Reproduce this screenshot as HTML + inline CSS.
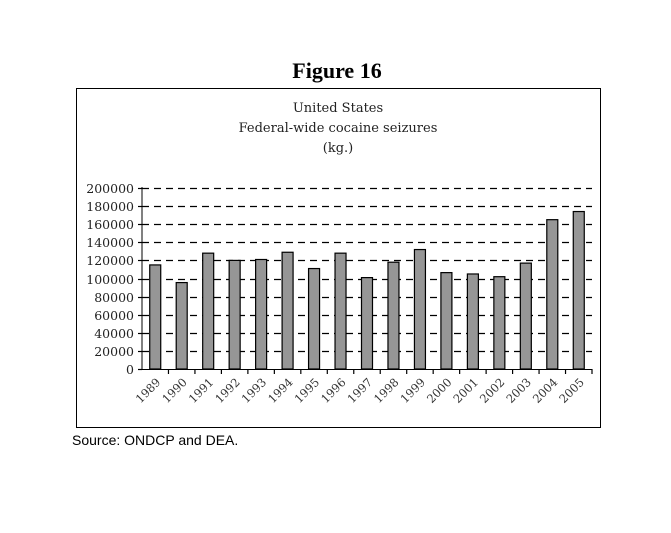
<!DOCTYPE html>
<html><head><style>
body{margin:0;width:671px;height:533px;background:#fff;position:relative;overflow:hidden}
</style></head><body>
<svg width="671" height="533" style="position:absolute;left:0;top:0">
<text x="337" y="78" text-anchor="middle" font-family="Liberation Serif" font-weight="bold" font-size="22">Figure 16</text>
<rect x="76.5" y="88.5" width="524" height="339" fill="none" stroke="#000" stroke-width="1"/>
<g font-family="DejaVu Serif, Liberation Serif" font-size="13" text-anchor="middle" fill="#222">
<text x="338" y="112">United States</text>
<text x="338" y="132">Federal-wide cocaine seizures</text>
<text x="338" y="152">(kg.)</text>
</g>
<g id="grid" stroke="#000" stroke-width="1.2" stroke-dasharray="7,5"></g>
<g id="bars"></g>
<g id="lab" font-family="DejaVu Serif, Liberation Serif" font-size="12.5" fill="#222"></g>
<g id="xl" font-family="DejaVu Serif, Liberation Serif" font-size="11.5" fill="#333"></g>
<line x1="142" y1="187" x2="142" y2="369" stroke="#000"/>
<line x1="138" y1="369.5" x2="592" y2="369.5" stroke="#000"/>
<text x="72" y="445" font-family="Liberation Sans" font-size="14">Source: ONDCP and DEA.</text>
</svg>
<script>
var ns="http://www.w3.org/2000/svg";
function el(t,a,p,txt){var e=document.createElementNS(ns,t);for(var k in a)e.setAttribute(k,a[k]);if(txt)e.textContent=txt;document.getElementById(p).appendChild(e);}
var y0=369,s=181/200000;
for(var v=0;v<=200000;v+=20000){var y=Math.round(y0-v*s)+0.5;
 if(v>0)el("line",{x1:142,x2:592,y1:y,y2:y},"grid");
 el("line",{x1:138,x2:142,y1:y,y2:y,stroke:"#000","stroke-dasharray":"none"},"grid");
 el("text",{x:134,y:y+4.5,"text-anchor":"end"},"lab",String(v));}
var vals=[115000,95500,128000,120000,121000,129000,111000,128000,101000,118000,132000,106500,105000,102000,117000,165000,174000];
var w=450/17;
for(var i=0;i<17;i++){var cx=142+w*(i+0.5);var h=vals[i]*s;
 el("rect",{x:cx-5.5,y:y0-h,width:11,height:h,fill:"#969696",stroke:"#000","stroke-width":1.2},"bars");
 var tx=142+w*(i+1);el("line",{x1:tx,x2:tx,y1:369,y2:374,stroke:"#000","stroke-dasharray":"none"},"grid");
 el("text",{x:0,y:0,"text-anchor":"end",transform:"translate("+(cx+6)+",383) rotate(-45)"},"xl",String(1989+i));}
</script>
</body></html>
